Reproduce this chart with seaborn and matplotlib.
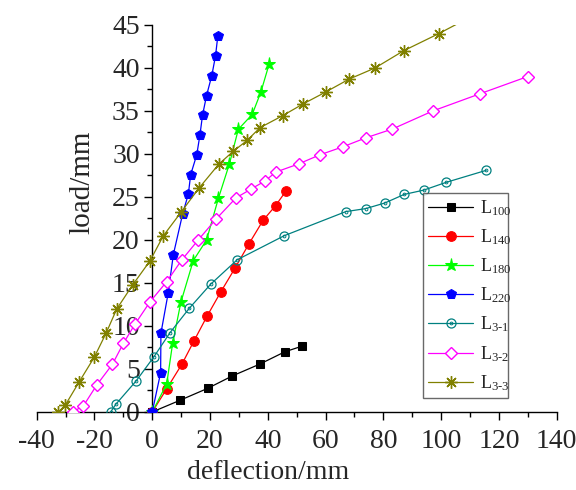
import matplotlib
matplotlib.use("Agg")
import matplotlib.pyplot as plt
import seaborn as sns
from matplotlib.ticker import MultipleLocator
from matplotlib.legend_handler import HandlerTuple

# load-deflection data
l100_x = [0, 9.6, 19.2, 27.7, 37.3, 45.9, 52.0]
l100_y = [0, 1.36, 2.75, 4.19, 5.58, 7.0, 7.67]

l140_x = [0, 5.0, 10.3, 14.5, 19.0, 23.7, 28.6, 33.5, 38.4, 42.7, 46.3]
l140_y = [0, 2.7, 5.58, 8.3, 11.16, 13.95, 16.7, 19.57, 22.3, 24.0, 25.7]

l180_x = [0, 5.0, 7.05, 9.9, 14.2, 18.8, 22.9, 26.7, 29.8, 34.6, 37.6, 40.5]
l180_y = [0, 3.26, 7.98, 12.75, 17.6, 20.0, 24.85, 28.84, 32.87, 34.6, 37.2, 40.5]

l220_x = [0, 2.9, 3.0, 5.5, 7.3, 10.5, 12.5, 13.3, 15.4, 16.5, 17.4, 18.8, 20.6, 21.9, 22.7]
l220_y = [0, 4.57, 9.15, 13.8, 18.3, 23.0, 25.35, 27.6, 29.9, 32.2, 34.5, 36.8, 39.1, 41.4, 43.75]

l31_x = [-14.4, -12.6, -5.6, 0.6, 6.1, 12.8, 20.2, 29.4, 45.7, 67.0, 73.9, 80.5, 87.2, 94.0, 101.7, 115.6]
l31_y = [0, 0.9, 3.6, 6.43, 9.2, 12.05, 14.85, 17.7, 20.5, 23.3, 23.65, 24.3, 25.3, 25.8, 26.7, 28.1]

l32_x = [-27.5, -23.8, -19.2, -13.8, -10.0, -6.0, -0.8, 5.0, 10.2, 15.9, 22.0, 29.0, 34.1,
         39.0, 42.8, 50.7, 58.0, 66.1, 74.1, 83.1, 97.1, 113.4, 129.9]
l32_y = [0, 0.73, 3.14, 5.54, 7.98, 10.2, 12.8, 15.15, 17.67, 20.0, 22.4, 24.9, 25.9,
         26.86, 27.9, 28.85, 29.9, 30.85, 31.9, 32.9, 35.0, 37.0, 39.0]

l33_x = [-32.5, -30.1, -25.3, -20.1, -16.0, -12.3, -6.8, -0.8, 3.8, 9.9, 16.1, 23.1, 28.0,
         32.9, 37.3, 45.1, 52.1, 60.0, 68.1, 77.1, 87.0, 99.2, 110.5]
l33_y = [0, 0.8, 3.5, 6.35, 9.15, 11.97, 14.77, 17.56, 20.47, 23.2, 26.0, 28.84, 30.3,
         31.6, 33.06, 34.45, 35.8, 37.2, 38.7, 40.0, 42.0, 44.0, 46.0]

labels = [r"$\mathrm{L_{100}}$", r"$\mathrm{L_{140}}$", r"$\mathrm{L_{180}}$", r"$\mathrm{L_{220}}$",
          r"$\mathrm{L_{3\text{-}1}}$", r"$\mathrm{L_{3\text{-}2}}$", r"$\mathrm{L_{3\text{-}3}}$"]

sns.set_theme(style="ticks")
plt.rcParams["font.family"] = ["Liberation Serif", "DejaVu Serif"]
plt.rcParams["mathtext.fontset"] = "custom"
plt.rcParams["mathtext.rm"] = "Liberation Serif"
plt.rcParams["axes.unicode_minus"] = False

fig = plt.figure(figsize=(5.76, 4.9), dpi=100)
ax = fig.add_axes([0.0637, 0.1592, 0.9028, 0.7898])

lw = 0.9
h = []
# solid markers
for xs, ys, c, m, ms in [(l100_x, l100_y, "black", "s", 6.0),
                         (l140_x, l140_y, "red", "o", 7.0),
                         (l180_x, l180_y, "#00ff00", "*", 9.5),
                         (l220_x, l220_y, "blue", "p", 7.5)]:
    sns.lineplot(x=xs, y=ys, sort=False, estimator=None, color=c, linewidth=lw,
                 marker=m, markersize=ms, markeredgecolor=c, markerfacecolor=c, ax=ax)
    h.append(ax.lines[-1])

# L3-1: open circle with a small dot inside
sns.lineplot(x=l31_x, y=l31_y, sort=False, estimator=None, color="#008080", linewidth=lw,
             marker="o", markersize=6.5, markerfacecolor="none", markeredgecolor="#008080",
             markeredgewidth=0.9, ax=ax)
line31 = ax.lines[-1]
ax.plot(l31_x, l31_y, linestyle="none", marker="o", markersize=2.0, color="#008080",
        markerfacecolor="none", markeredgewidth=0.7)
h.append((line31, ax.lines[-1]))

sns.lineplot(x=l32_x, y=l32_y, sort=False, estimator=None, color="#ff00ff", linewidth=lw,
             marker="D", markersize=6.0, markerfacecolor="white", markeredgecolor="#ff00ff",
             markeredgewidth=1.0, ax=ax)
h.append(ax.lines[-1])

sns.lineplot(x=l33_x, y=l33_y, sort=False, estimator=None, color="#808000", linewidth=lw,
             marker=(8, 2, 0), markersize=9, markeredgecolor="#808000", markeredgewidth=1.0, ax=ax)
h.append(ax.lines[-1])

ax.set_xlim(-40, 140)
ax.set_ylim(0, 45)
ax.spines["top"].set_visible(False)
ax.spines["right"].set_visible(False)
ax.spines["left"].set_position(("data", 0))
for s in ["left", "bottom"]:
    ax.spines[s].set_linewidth(1.0)
    ax.spines[s].set_color("black")
    ax.spines[s].set_zorder(1)

ax.xaxis.set_major_locator(MultipleLocator(20))
ax.xaxis.set_minor_locator(MultipleLocator(10))
ax.yaxis.set_major_locator(MultipleLocator(5))
ax.yaxis.set_minor_locator(MultipleLocator(2.5))
ax.tick_params(which="major", direction="out", length=6, width=1.0, labelsize=20, pad=6, color="black")
ax.tick_params(which="minor", direction="out", length=3.5, width=1.0, color="black")
ax.tick_params(axis="y", pad=3)

ax.set_xlabel("deflection/mm", fontsize=20)
ax.set_ylabel("load/mm", fontsize=21)
ax.xaxis.set_label_coords(0.445, -0.125)
ax.yaxis.set_label_coords(0.113, 0.594)

leg = ax.legend(h, labels, handler_map={tuple: HandlerTuple(ndivide=1)},
                loc="lower left", bbox_to_anchor=(0.742, 0.036, 0.164, 0.512), mode="expand",
                fontsize=13, frameon=True, fancybox=False, edgecolor="#444444",
                handlelength=2.5, handletextpad=0.4, borderpad=0.3, labelspacing=0.52,
                borderaxespad=0)
leg.get_frame().set_linewidth(1.0)

plt.savefig("out.png", dpi=100)
plt.close()
